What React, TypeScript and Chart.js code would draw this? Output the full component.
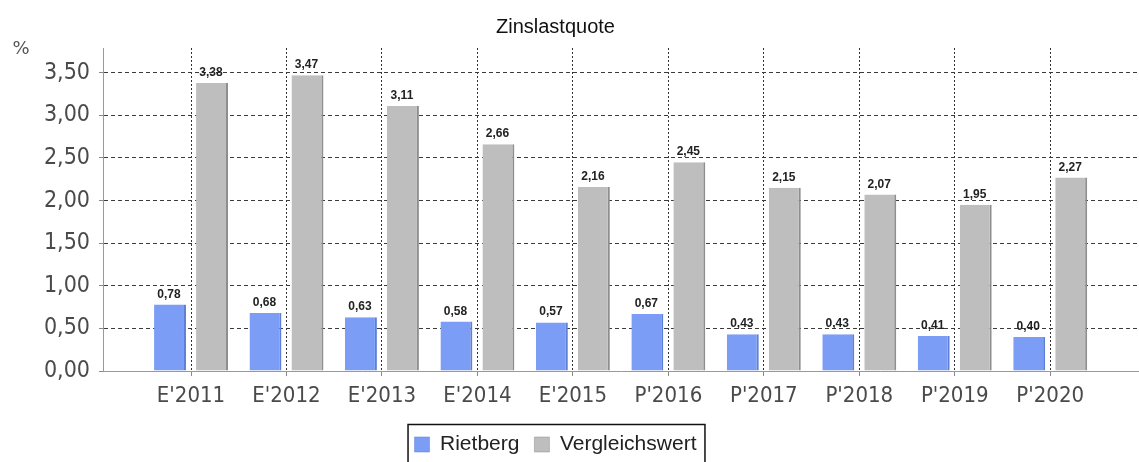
import React, { useEffect, useRef } from 'react';
import { Chart, registerables } from 'chart.js';

Chart.register(...registerables);

const chartTitle = 'Zinslastquote';
const unitLabel = '%';
const categories = ["E'2011", "E'2012", "E'2013", "E'2014", "E'2015", "P'2016", "P'2017", "P'2018", "P'2019", "P'2020"];
const seriesNames = ['Rietberg', 'Vergleichswert'];
const rietberg = [0.78, 0.68, 0.63, 0.58, 0.57, 0.67, 0.43, 0.43, 0.41, 0.40];
const vergleichswert = [3.38, 3.47, 3.11, 2.66, 2.16, 2.45, 2.15, 2.07, 1.95, 2.27];
const yTicks = [0, 0.5, 1, 1.5, 2, 2.5, 3, 3.5];

const fmt = (v: number) => v.toFixed(2).replace('.', ',');

const W = 1139;
const H = 465;

const shiftPlugin = {
  id: 'shiftCenter',
  afterLayout(chart: any) {
    const dx = -14;
    if (chart.legend) {
      chart.legend.left += dx;
      chart.legend.right += dx;
    }
    if (chart.titleBlock) {
      chart.titleBlock.left += dx;
      chart.titleBlock.right += dx;
    }
  },
};

const labelPlugin = {
  id: 'valueLabels',
  afterDatasetsDraw(chart: any) {
    const ctx = chart.ctx;
    ctx.save();
    ctx.font = 'bold 12px "Liberation Sans", Arial, sans-serif';
    ctx.fillStyle = '#222';
    ctx.textAlign = 'center';
    ctx.textBaseline = 'alphabetic';
    chart.data.datasets.forEach((ds: any, di: number) => {
      const meta = chart.getDatasetMeta(di);
      meta.data.forEach((el: any, i: number) => {
        const v = ds.data[i].y;
        ctx.fillText(fmt(v), el.x - 1, el.y - 7);
      });
    });
    ctx.restore();
  },
  afterDraw(chart: any) {
    const ctx = chart.ctx;
    const area = chart.chartArea;
    ctx.save();
    ctx.font = '18px "DejaVu Sans", sans-serif';
    ctx.fillStyle = '#555';
    ctx.textAlign = 'center';
    ctx.textBaseline = 'middle';
    ctx.fillText(unitLabel, area.left - 82, area.top + 1);
    const lg = chart.legend;
    if (lg && lg.legendHitBoxes && lg.legendHitBoxes.length) {
      const hb = lg.legendHitBoxes;
      const first = hb[0];
      const last = hb[hb.length - 1];
      const x1 = first.left - 6.5;
      const x2 = last.left + last.width + 8.5;
      const y1 = first.top - 9.5;
      ctx.strokeStyle = '#111';
      ctx.lineWidth = 1.5;
      ctx.beginPath();
      ctx.moveTo(x1, H + 10);
      ctx.lineTo(x1, y1);
      ctx.lineTo(x2, y1);
      ctx.lineTo(x2, H + 10);
      ctx.stroke();
    }
    ctx.restore();
  },
};

export default function App() {
  const ref = useRef<HTMLCanvasElement | null>(null);

  useEffect(() => {
    if (!ref.current) return;
    const chart = new Chart(ref.current, {
      type: 'bar',
      data: {
        datasets: [
          {
            label: seriesNames[0],
            data: rietberg.map((v, i) => ({ x: i, y: v })),
            backgroundColor: '#7c9df5',
            borderColor: '#5f7fd6',
            borderWidth: { top: 0, right: 2, bottom: 0, left: 0 },
            borderSkipped: false,
            categoryPercentage: 0.88,
            barPercentage: 0.76,
          },
          {
            label: seriesNames[1],
            data: vergleichswert.map((v, i) => ({ x: i, y: v })),
            backgroundColor: '#bebebe',
            borderColor: '#8e8e8e',
            borderWidth: { top: 0, right: 2, bottom: 0, left: 0 },
            borderSkipped: false,
            categoryPercentage: 0.88,
            barPercentage: 0.76,
          },
        ],
      },
      options: {
        responsive: false,
        animation: false,
        devicePixelRatio: 1,
        layout: { padding: 0 },
        scales: {
          x: {
            type: 'linear',
            offset: false,
            min: -0.922,
            max: 9.93,
            afterBuildTicks: (scale: any) => {
              scale.ticks = categories.map((_, i) => ({ value: i }));
            },
            afterFit: (scale: any) => {
              scale.height = 48;
            },
            ticks: {
              callback: (v: any) => categories[Math.round(Number(v))] ?? '',
              font: { family: '"DejaVu Sans Condensed", "DejaVu Sans", sans-serif', size: 22 },
              color: '#4a4a4a',
              padding: 7,
              maxRotation: 0,
              autoSkip: false,
            },
            grid: {
              offset: false,
              color: '#333',
              lineWidth: 1,
              tickLength: 5,
              tickColor: '#888',
              tickBorderDash: [],
            },
            border: { display: true, color: '#999', width: 1, dash: [2, 2] },
          },
          y: {
            min: 0,
            max: 3.79,
            afterBuildTicks: (scale: any) => {
              scale.ticks = yTicks.map((v) => ({ value: v }));
            },
            afterFit: (scale: any) => {
              scale.width = 103;
            },
            ticks: {
              callback: (v: any) => fmt(Number(v)),
              font: { family: '"DejaVu Sans Condensed", "DejaVu Sans", sans-serif', size: 23 },
              color: '#4a4a4a',
              padding: 9,
            },
            grid: {
              color: '#3a3a3a',
              lineWidth: 1,
              tickLength: 4,
              tickColor: '#888',
              tickBorderDash: [],
            },
            border: { display: true, color: '#999', width: 1, dash: [4, 3] },
          },
        },
        plugins: {
          title: {
            display: true,
            text: chartTitle,
            color: '#111',
            font: { family: '"Liberation Sans", Arial, sans-serif', size: 20, weight: 'normal', lineHeight: 1.2 },
            padding: { top: 15, bottom: 9 },
          },
          legend: {
            display: true,
            position: 'bottom',
            labels: {
              boxWidth: 15,
              boxHeight: 15,
              padding: 15,
              color: '#222',
              font: { family: '"Liberation Sans", Arial, sans-serif', size: 21 },
            },
          },
          tooltip: { enabled: false },
        },
      } as any,
      plugins: [shiftPlugin, labelPlugin],
    });
    return () => chart.destroy();
  }, []);

  return (
    <div style={{ position: 'absolute', left: 0, top: 0, width: W, height: 462, overflow: 'hidden', background: '#fff' }}>
      <canvas ref={ref} width={W} height={H} style={{ display: 'block', width: W, height: H }} />
    </div>
  );
}
